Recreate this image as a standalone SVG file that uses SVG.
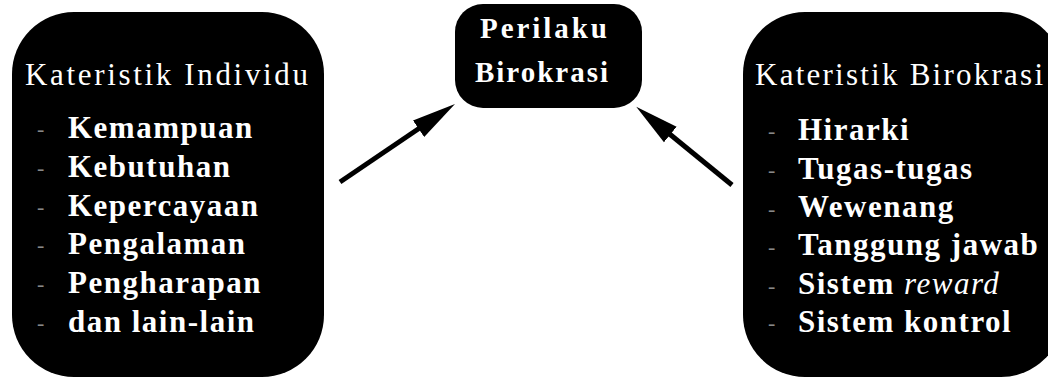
<svg xmlns="http://www.w3.org/2000/svg" width="1048" height="378" viewBox="0 0 1048 378">
<style>
.box{fill:#000}
.t{font-family:"Liberation Serif","Times New Roman",serif;fill:#fff}
.title{font-size:31px}
.ctr{font-size:29px;font-weight:bold}
.item{font-size:31px;font-weight:bold;letter-spacing:1.5px}
.dash{font-family:"Liberation Serif",serif;font-size:22px;fill:#888}
.conn{stroke:#000;stroke-width:5;fill:none}
</style>
<defs>
<marker id="ah" markerUnits="userSpaceOnUse" markerWidth="46" markerHeight="22" refX="12" refY="11" orient="auto">
<path d="M0,1 L44,11 L0,21 z" fill="#000"/>
</marker>
</defs>
<rect width="1048" height="378" fill="#fff"/>
<g id="connectors">
<line class="conn" x1="340" y1="182" x2="428.5" y2="122" marker-end="url(#ah)"/>
<line class="conn" x1="732" y1="185" x2="661" y2="127" marker-end="url(#ah)"/>
</g>
<g id="perilaku">
<rect class="box" x="455" y="4" width="187" height="104" rx="28"/>
<text class="t ctr" x="480" y="38" textLength="127" lengthAdjust="spacing">Perilaku</text>
<text class="t ctr" x="475" y="82" textLength="133" lengthAdjust="spacing">Birokrasi</text>
</g>
<g id="individu">
<rect class="box" x="12" y="12" width="312" height="365" rx="62"/>
<text class="t title" x="25" y="85" textLength="283" lengthAdjust="spacing">Kateristik Individu</text>
<text class="dash" x="37" y="136">-</text>
<text class="dash" x="37" y="175">-</text>
<text class="dash" x="37" y="214">-</text>
<text class="dash" x="37" y="252">-</text>
<text class="dash" x="37" y="291">-</text>
<text class="dash" x="37" y="330">-</text>
<text class="t item" x="68" y="138">Kemampuan</text>
<text class="t item" x="68" y="177">Kebutuhan</text>
<text class="t item" x="68" y="216">Kepercayaan</text>
<text class="t item" x="68" y="254">Pengalaman</text>
<text class="t item" x="68" y="293">Pengharapan</text>
<text class="t item" x="68" y="332">dan lain-lain</text>
</g>
<g id="birokrasi">
<rect class="box" x="743" y="12" width="320" height="365" rx="62"/>
<text class="t title" x="755" y="85" textLength="288" lengthAdjust="spacing">Kateristik Birokrasi</text>
<text class="dash" x="768" y="138">-</text>
<text class="dash" x="768" y="177">-</text>
<text class="dash" x="768" y="216">-</text>
<text class="dash" x="768" y="254">-</text>
<text class="dash" x="768" y="293">-</text>
<text class="dash" x="768" y="330">-</text>
<text class="t item" x="798" y="140">Hirarki</text>
<text class="t item" x="798" y="179">Tugas-tugas</text>
<text class="t item" x="798" y="217">Wewenang</text>
<text class="t item" x="798" y="255">Tanggung jawab</text>
<text class="t item" x="798" y="294">Sistem <tspan font-style="italic" font-weight="normal">reward</tspan></text>
<text class="t item" x="798" y="332">Sistem kontrol</text>
</g>
</svg>
